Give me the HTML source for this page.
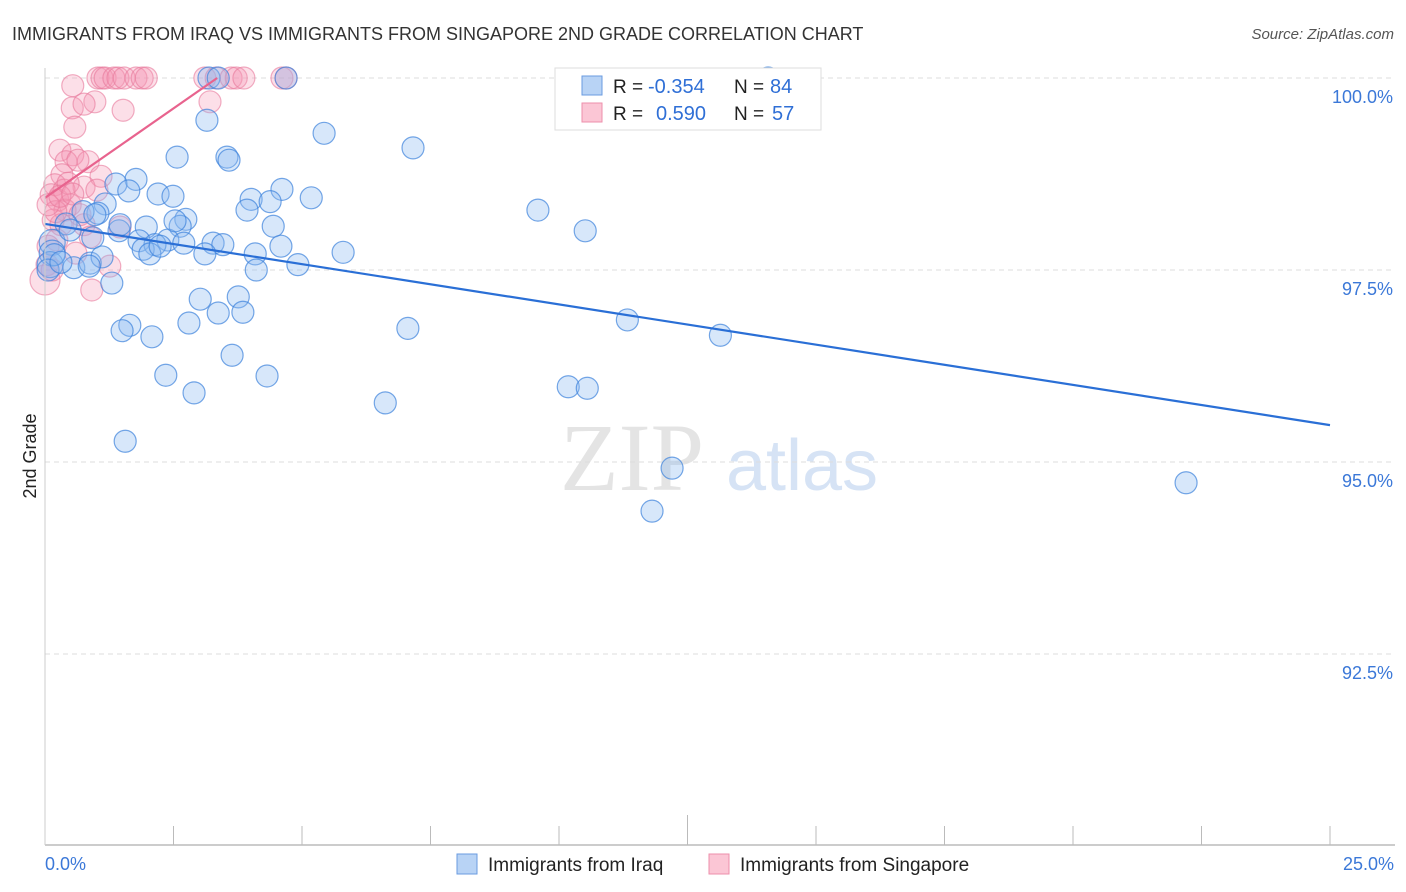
<!DOCTYPE html>
<html><head><meta charset="utf-8">
<style>
body{margin:0;background:#fff;font-family:"Liberation Sans",sans-serif;}
#wrap{position:relative;width:1406px;height:892px;overflow:hidden;}
</style></head>
<body>
<div id="wrap">
<svg id="svg" width="1406" height="892">
<text x="12" y="40" font-size="18" fill="#333">IMMIGRANTS FROM IRAQ VS IMMIGRANTS FROM SINGAPORE 2ND GRADE CORRELATION CHART</text>
<text x="1394" y="39" font-size="15" fill="#555" text-anchor="end" font-style="italic">Source: ZipAtlas.com</text>
<text x="36" y="456" font-size="18" fill="#222" text-anchor="middle" transform="rotate(-90 36 456)">2nd Grade</text>
<g>
<text x="632" y="490" font-size="96" fill="#e4e4e4" font-family="Liberation Serif,serif" text-anchor="middle">ZIP</text>
<text x="802" y="490" font-size="72" fill="#d6e3f5" text-anchor="middle">atlas</text>
</g>
<g id="grid"></g>
<g id="pts"></g>
<g id="lines"></g>
<g id="axes"></g>
<g>
<rect x="555" y="68" width="266" height="62" fill="#fff" stroke="#ddd"/>
<rect x="582" y="76" width="20" height="19" fill="#b8d3f5" stroke="#6a9be0"/>
<rect x="582" y="103" width="20" height="19" fill="#fbc6d5" stroke="#ee8fab"/>
<text x="613" y="93" font-size="19" fill="#222">R = </text><text x="648" y="93" font-size="20" fill="#2f6fd6">-0.354</text>
<text x="734" y="93" font-size="19" fill="#222">N = </text><text x="770" y="93" font-size="20" fill="#2f6fd6">84</text>
<text x="613" y="120" font-size="19" fill="#222">R = </text><text x="656" y="120" font-size="20" fill="#2f6fd6">0.590</text>
<text x="734" y="120" font-size="19" fill="#222">N = </text><text x="772" y="120" font-size="20" fill="#2f6fd6">57</text>
</g>
<g>
<rect x="457" y="854" width="20" height="20" fill="#b8d3f5" stroke="#6a9be0"/>
<text x="488" y="871" font-size="19" fill="#222">Immigrants from Iraq</text>
<rect x="709" y="854" width="20" height="20" fill="#fbc6d5" stroke="#ee8fab"/>
<text x="740" y="871" font-size="19" fill="#222">Immigrants from Singapore</text>
</g>
</svg>
</div>
<script>
const xTickLabels=["0.0%","25.0%"];
const yTicks=[100,97.5,95,92.5];
const yTickLabels=["100.0%","97.5%","95.0%","92.5%"];
const iraqX=[3.19,3.37,4.69,14.07,3.15,5.43,7.16,2.57,3.54,3.58,1.77,1.38,1.63,2.20,2.49,4.61,4.01,5.18,4.38,1.17,3.93,9.59,1.03,0.74,2.74,1.97,4.44,1.44,10.51,0.41,2.63,0.93,1.83,2.39,2.14,3.27,3.46,2.70,1.91,2.04,2.24,3.11,4.09,4.59,5.80,0.14,0.14,0.10,0.56,0.88,1.11,0.86,4.11,4.92,1.30,3.02,3.76,3.37,3.85,2.80,1.65,1.50,2.08,7.06,11.33,13.14,3.64,2.35,4.32,2.90,6.62,10.18,10.55,1.56,12.20,11.81,22.20,0.18,0.06,1.46,0.97,0.31,0.49,2.53];
const iraqY=[100,100,100,100,99.45,99.28,99.09,98.97,98.97,98.93,98.68,98.62,98.53,98.49,98.46,98.55,98.42,98.44,98.39,98.36,98.28,98.28,98.24,98.26,98.16,98.06,98.07,98.01,98.01,98.10,98.07,97.92,97.88,97.89,97.83,97.85,97.83,97.85,97.77,97.71,97.81,97.71,97.71,97.81,97.73,97.86,97.72,97.57,97.53,97.59,97.67,97.55,97.50,97.57,97.33,97.12,97.15,96.94,96.95,96.81,96.78,96.71,96.63,96.74,96.85,96.65,96.39,96.13,96.12,95.90,95.77,95.98,95.96,95.27,94.92,94.36,94.73,97.70,97.50,98.09,98.22,97.60,98.02,98.14];
const singX=[1.03,1.11,1.17,1.34,1.42,1.54,1.77,1.89,1.97,3.11,3.33,3.62,3.72,3.87,4.61,4.69,0.54,0.97,0.53,0.76,1.52,3.21,0.58,0.29,0.54,0.41,0.84,1.09,0.33,0.19,0.12,0.25,0.49,0.76,1.01,0.39,0.16,0.31,0.76,1.46,0.88,0.23,0.06,0.60,1.26,0.91,0,0.04,0.14,0.37,0.64,0.45,0.21,0.68,0.06,0.29,0.54];
const singY=[100,100,100,100,100,100,100,100,100,100,100,100,100,100,100,100,99.90,99.69,99.61,99.66,99.58,99.69,99.36,99.06,99.00,98.91,98.91,98.72,98.74,98.61,98.48,98.41,98.35,98.58,98.54,98.28,98.15,98.09,98.09,98.06,97.93,97.89,97.81,97.72,97.55,97.24,97.37,97.57,97.50,98.54,98.93,98.63,98.26,98.22,98.35,98.46,98.49];
const iraqTrend=[[0,98.10],[25,95.48]];
const singTrend=[[0,98.44],[3.35,100]];

const NS="http://www.w3.org/2000/svg";
function X(v){return 45+v/25*1285;}
function Y(v){return 78+(100-v)/2.5*192;}
function mk(parent,tag,attrs){const e=document.createElementNS(NS,tag);for(const k in attrs)e.setAttribute(k,attrs[k]);document.getElementById(parent).appendChild(e);return e;}

yTicks.forEach((t,i)=>{
  const l=mk('grid','line',{x1:45,x2:1395,y1:Y(t),y2:Y(t),stroke:'#ddd','stroke-dasharray':'5,4'});
  
  
  const tx=mk('axes','text',{x:1393,y:Y(t)+25,'font-size':18,fill:'#3b78d8','text-anchor':'end'});
  tx.textContent=yTickLabels[i];
  
  
});
for(let i=0;i<=10;i++){
  const v=i*2.5;
  const t=mk('axes','line',{x1:X(v),x2:X(v),y1:(i==5?815:826),y2:845,stroke:'#bbb'});
  
  
}
const xa=mk('axes','line',{x1:45,x2:1395,y1:845,y2:845,stroke:'#bbb','stroke-width':1.5});


const ya=mk('axes','line',{x1:45,x2:45,y1:68,y2:845,stroke:'#ccc'});


const xl0=mk('axes','text',{x:45,y:870,'font-size':18,fill:'#3b78d8'});
xl0.textContent=xTickLabels[0];


const xl1=mk('axes','text',{x:1394,y:870,'font-size':18,fill:'#3b78d8','text-anchor':'end'});
xl1.textContent=xTickLabels[1];



singX.forEach((v,i)=>{
  const c=mk('pts','circle',{cx:X(v),cy:Y(singY[i]),r:(i==46?15:11),fill:'rgba(244,150,180,0.3)',stroke:'rgba(232,120,155,0.6)','stroke-width':1.2});
  
  
});
iraqX.forEach((v,i)=>{
  const c=mk('pts','circle',{cx:X(v),cy:Y(iraqY[i]),r:(i>=45&&i<=47?13:11),fill:'rgba(140,185,240,0.35)',stroke:'rgba(60,130,220,0.7)','stroke-width':1.2});
  
  
});
const bl=mk('lines','line',{x1:X(iraqTrend[0][0]),y1:Y(iraqTrend[0][1]),x2:X(iraqTrend[1][0]),y2:Y(iraqTrend[1][1]),stroke:'#2a6fd6','stroke-width':2.2});


const pl=mk('lines','line',{x1:X(singTrend[0][0]),y1:Y(singTrend[0][1]),x2:X(singTrend[1][0]),y2:Y(singTrend[1][1]),stroke:'#e8638e','stroke-width':2.2});


</script>
</body></html>
